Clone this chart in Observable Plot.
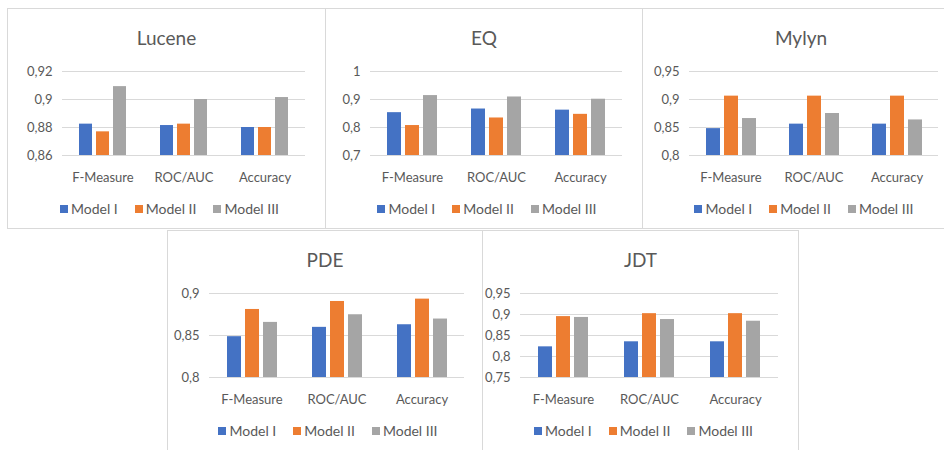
<!DOCTYPE html>
<html>
<head>
<meta charset="utf-8">
<script src="https://cdn.jsdelivr.net/npm/d3@7"></script>
<script src="https://cdn.jsdelivr.net/npm/@observablehq/plot@0.6"></script>
<style>
  body { margin: 0; width: 944px; height: 450px; overflow: hidden; position: relative; background: #fff;
         font-family: Lato, "Noto Sans", sans-serif; color: #595959; }
  .panel { position: absolute; border: 1px solid #d9d9d9; box-sizing: border-box; background: #fff; overflow: hidden; }
  .title { position: absolute; left: 0; right: 0; top: 17px; text-align: center; font-size: 19px; font-weight: 400; line-height: 24px; }
  .chart { position: absolute; left: 0; top: 0; }
  .legend { position: absolute; left: 6px; right: 0; top: 191px; display: flex; justify-content: center; }
</style>
</head>
<body>
<script>
// Categories and series
const metrics = ["F-Measure", "ROC/AUC", "Accuracy"];
const models = ["Model I", "Model II", "Model III"];
const colors = ["#4472C4", "#ED7D31", "#A5A5A5"];

// Scores per project: rows = metric, columns = model
const lucene = [[0.8824, 0.8769, 0.9092], [0.8814, 0.8824, 0.9000], [0.8800, 0.8800, 0.9014]];
const eq     = [[0.853, 0.807, 0.914], [0.866, 0.834, 0.909], [0.862, 0.847, 0.901]];
const mylyn  = [[0.848, 0.906, 0.866], [0.856, 0.906, 0.875], [0.856, 0.906, 0.8635]];
const pde    = [[0.8486, 0.881, 0.8656], [0.8597, 0.8905, 0.8747], [0.8628, 0.8933, 0.8696]];
const jdt    = [[0.823, 0.895, 0.893], [0.835, 0.902, 0.888], [0.835, 0.902, 0.884]];

// Y-axis ticks per project (first and last give the axis range)
const luceneTicks = [0.86, 0.88, 0.9, 0.92];
const eqTicks     = [0.7, 0.8, 0.9, 1];
const mylynTicks  = [0.8, 0.85, 0.9, 0.95];
const pdeTicks    = [0.8, 0.85, 0.9];
const jdtTicks    = [0.75, 0.8, 0.85, 0.9, 0.95];

// Panel placement on the page
const panels = [
  {title: "Lucene", values: lucene, ticks: luceneTicks, left: 7,   top: 8,   width: 319, height: 221, ml: 53, mr: 19},
  {title: "EQ",     values: eq,     ticks: eqTicks,     left: 325, top: 8,   width: 318, height: 221, ml: 43, mr: 20},
  {title: "Mylyn",  values: mylyn,  ticks: mylynTicks,  left: 642, top: 8,   width: 318, height: 221, ml: 46, mr: 21},
  {title: "PDE",    values: pde,    ticks: pdeTicks,    left: 167, top: 230, width: 316, height: 223, ml: 41, mr: 18},
  {title: "JDT",    values: jdt,    ticks: jdtTicks,    left: 482, top: 230, width: 317, height: 223, ml: 36, mr: 20}
];

const decimalComma = d => String(d).replace(".", ",");

for (const p of panels) {
  const rows = [];
  p.values.forEach((vals, i) => vals.forEach((v, j) => rows.push({metric: metrics[i], model: models[j], value: v})));
  const lo = p.ticks[0], hi = p.ticks[p.ticks.length - 1];

  const panel = document.createElement("div");
  panel.className = "panel";
  Object.assign(panel.style, {left: p.left + "px", top: p.top + "px", width: p.width + "px", height: p.height + "px"});

  const title = document.createElement("div");
  title.className = "title";
  title.textContent = p.title;
  panel.appendChild(title);

  const chart = Plot.plot({
    width: p.width - 2,
    height: 185,
    marginTop: 62,
    marginBottom: 39,
    marginLeft: p.ml,
    marginRight: p.mr,
    style: {fontFamily: "Lato, 'Noto Sans', sans-serif", fontSize: "13px", color: "#595959", background: "transparent", overflow: "visible"},
    fx: {domain: metrics, padding: 0, axis: null},
    x: {domain: models, paddingInner: 0.25, paddingOuter: 0.93, axis: null},
    y: {domain: [lo, hi], axis: null},
    color: {domain: models, range: colors},
    marks: [
      Plot.gridY(p.ticks, {stroke: "#d9d9d9", strokeOpacity: 1}),
      Plot.barY(rows, {fx: "metric", x: "model", y1: lo, y2: "value", fill: "model"}),
      Plot.axisY(p.ticks, {tickSize: 0, tickPadding: 10, tickFormat: decimalComma, label: null}),
      Plot.axisFx({anchor: "bottom", tickSize: 0, tickPadding: 17, label: null})
    ]
  });
  chart.classList.add("chart");
  panel.appendChild(chart);

  const legendWrap = document.createElement("div");
  legendWrap.className = "legend";
  const legend = Plot.legend({color: {type: "ordinal", domain: models, range: colors}, swatchSize: 8});
  Object.assign(legend.style, {fontFamily: "Lato, 'Noto Sans', sans-serif", fontSize: "14px", color: "#595959", margin: "0", minHeight: "0"});
  const items = legend.querySelectorAll("span");
  items.forEach((s, i) => { s.style.marginRight = i === items.length - 1 ? "0" : "17px"; s.style.color = "#595959"; });
  legend.querySelectorAll("svg").forEach(s => { s.style.marginRight = "3px"; });
  legendWrap.appendChild(legend);
  panel.appendChild(legendWrap);

  document.body.appendChild(panel);
}
</script>
</body>
</html>
